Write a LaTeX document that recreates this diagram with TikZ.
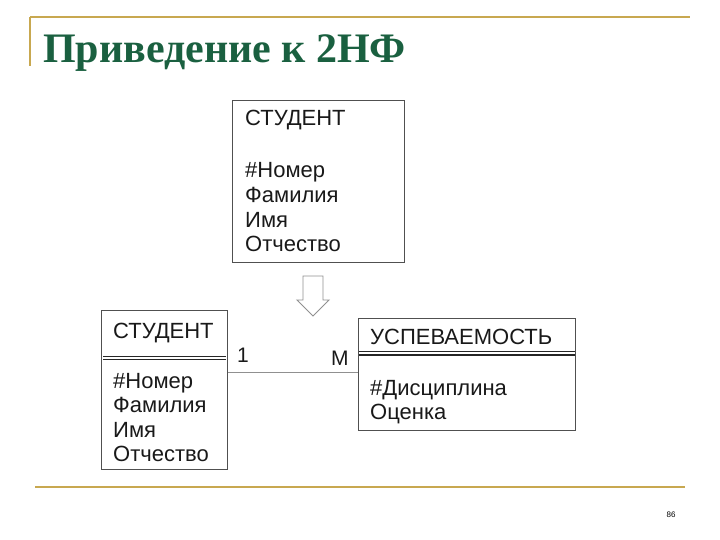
\documentclass[tikz,border=0pt]{standalone}
\usepackage{fontspec}
\setmainfont{Liberation Sans}
\newfontfamily\titlefont{Liberation Serif}
\definecolor{gold}{HTML}{C8A850}
\definecolor{titlegreen}{HTML}{1A6040}
\definecolor{boxline}{HTML}{505050}
\definecolor{linkgray}{HTML}{909090}
\begin{document}
\begin{tikzpicture}[x=1pt,y=-1pt,
  entbox/.style={draw=boxline,line width=0.9pt,inner sep=0pt,anchor=north west},
  attr/.style={anchor=base west,inner sep=0pt,font=\fontsize{22}{24}\selectfont,text=black!90},
  rule/.style={line width=0.9pt,draw=black!85}]
\useasboundingbox (0,0) rectangle (720,540);
% slide frame
\draw[gold,line width=1.6pt] (30,17) -- (690,17);
\draw[gold,line width=1.6pt] (30,17) -- (30,66);
\draw[gold,line width=1.6pt] (35,487) -- (685,487);
\node[anchor=base west,inner sep=0pt,text=titlegreen,font=\titlefont\bfseries\fontsize{42}{46}\selectfont] (title) at (43,63) {Приведение к 2НФ};
\node[anchor=base,inner sep=0pt,font=\fontsize{8}{9}\selectfont] (pg) at (671,517) {86};
% top entity
\node[entbox,minimum width=172pt,minimum height=162pt] (s1) at (232,100) {};
\node[attr] (s1h) at (245,126) {СТУДЕНТ};
\node[attr] (s1a) at (245,178) {\#Номер};
\node[attr] (s1b) at (245,202.5) {Фамилия};
\node[attr] (s1c) at (245,227) {Имя};
\node[attr] (s1d) at (245,251.5) {Отчество};
% transform arrow
\draw[linkgray,line width=0.9pt,fill=white] (303,276) -- (323,276) -- (323,300) -- (329,300) -- (313,316) -- (297,300) -- (303,300) -- cycle;
% bottom-left entity
\node[entbox,minimum width=126pt,minimum height=159pt] (s2) at (101,310) {};
\node[attr] (s2h) at (113,338) {СТУДЕНТ};
\draw[rule] ([xshift=2pt]s2.west |- 0,356) -- ([xshift=-2pt]s2.east |- 0,356);
\draw[rule] ([xshift=2pt]s2.west |- 0,359) -- ([xshift=-2pt]s2.east |- 0,359);
\node[attr] (s2a) at (113,388) {\#Номер};
\node[attr] (s2b) at (113,412.5) {Фамилия};
\node[attr] (s2c) at (113,437) {Имя};
\node[attr] (s2d) at (113,461.5) {Отчество};
% right entity
\node[entbox,minimum width=217pt,minimum height=112pt] (u) at (358,318) {};
\node[attr] (uh) at (370,344) {УСПЕВАЕМОСТЬ};
\draw[rule,line width=1.6pt] ([xshift=1pt]u.west |- 0,351.5) -- ([xshift=-1pt]u.east |- 0,351.5);
\draw[rule,line width=1.4pt] ([xshift=1pt]u.west |- 0,354.8) -- ([xshift=-1pt]u.east |- 0,354.8);
\node[attr] (ua) at (370,395) {\#Дисциплина};
\node[attr] (ub) at (370,419) {Оценка};
% relationship
\coordinate (la) at (s2.east |- 0,372);
\coordinate (lb) at (u.west |- 0,372);
\draw[linkgray,line width=0.9pt] (la) -- (lb);
\node[attr,font=\fontsize{21}{22}\selectfont] (one) at (237,362.5) {1};
\node[attr,font=\fontsize{21}{22}\selectfont] (many) at (331,365) {M};
\end{tikzpicture}
\end{document}
